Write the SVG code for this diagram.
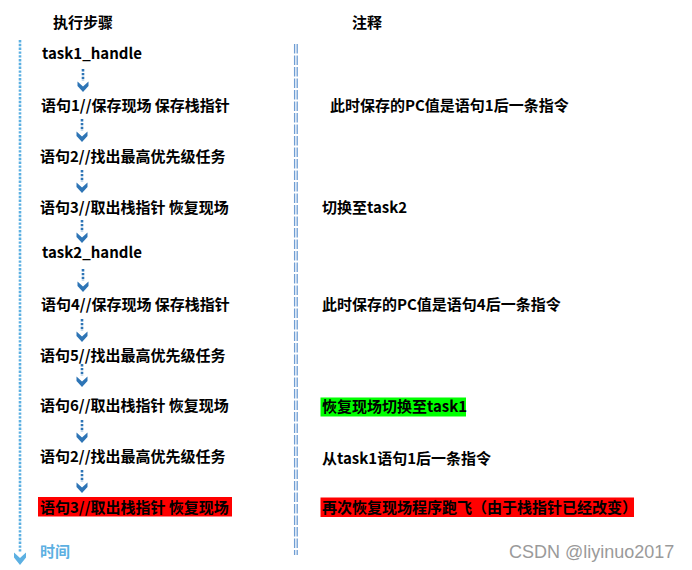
<svg xmlns="http://www.w3.org/2000/svg" xmlns:xlink="http://www.w3.org/1999/xlink" width="692" height="570" viewBox="0 0 692 570">
<style>
text{font-family:"Noto Sans CJK SC","Noto Sans",sans-serif;font-size:15px;font-weight:bold;fill:#000}
.time{fill:#5CB0E2}
.wm{font-family:"Liberation Sans","Noto Sans",sans-serif;font-weight:normal;font-size:18px;fill:#9a9a9a}
.dots{stroke:#2E75B6;stroke-width:2.6;stroke-dasharray:2.4 1.5;fill:none}
.head{fill:#2E75B6}
.axis{stroke:#5CB0E2;stroke-width:2.6;stroke-dasharray:2.4 1.4;fill:none}
.sep{stroke:#6E9DD3;stroke-width:1.3;stroke-dasharray:9.5 2;fill:none}
</style>
<defs>
<g id="arr">
<line class="dots" x1="0" y1="-23" x2="0" y2="-11"/>
<polygon class="head" points="-5.5,-10.5 0,-5.5 5.5,-10.5 5.5,-6 0,0 -5.5,-6"/>
</g>
</defs>
<rect width="692" height="570" fill="#fff"/>

<g id="axis-time">
<line class="axis" x1="20" y1="40" x2="20" y2="553"/>
<polygon fill="#5CB0E2" points="14,552.5 20,558 26,552.5 26,557.5 20,565 14,557.5"/>
<text class="time" x="40" y="556.5">时间</text>
</g>

<g id="separator">
<line class="sep" x1="294.6" y1="44" x2="294.6" y2="555"/>
<line class="sep" x1="297.2" y1="44" x2="297.2" y2="555"/>
</g>

<g id="headers">
<text x="53" y="27.5">执行步骤</text>
<text x="352" y="27.5">注释</text>
</g>

<g id="step-task1-handle"><text x="42" y="58.5">task1_handle</text></g>
<g id="step-s1"><text x="41" y="110.5">语句1//保存现场 保存栈指针</text></g>
<g id="step-s2"><text x="40" y="161.5">语句2//找出最高优先级任务</text></g>
<g id="step-s3"><text x="40" y="212.5">语句3//取出栈指针 恢复现场</text></g>
<g id="step-task2-handle"><text x="42" y="257.5">task2_handle</text></g>
<g id="step-s4"><text x="41" y="309.5">语句4//保存现场 保存栈指针</text></g>
<g id="step-s5"><text x="40" y="360.5">语句5//找出最高优先级任务</text></g>
<g id="step-s6"><text x="40" y="410.5">语句6//取出栈指针 恢复现场</text></g>
<g id="step-s2b"><text x="40" y="461.5">语句2//找出最高优先级任务</text></g>
<g id="step-s3b">
<rect x="38" y="497" width="194" height="19.5" fill="#FF0000"/>
<text x="40" y="512.5">语句3//取出栈指针 恢复现场</text>
</g>

<g id="note-1"><text x="330" y="110.5">此时保存的PC值是语句1后一条指令</text></g>
<g id="note-2"><text x="322" y="212.5">切换至task2</text></g>
<g id="note-3"><text x="322" y="309.5">此时保存的PC值是语句4后一条指令</text></g>
<g id="note-4">
<rect x="320.5" y="397.5" width="145.5" height="19" fill="#00FF00"/>
<text x="322" y="412">恢复现场切换至task1</text>
</g>
<g id="note-5"><text x="322" y="464">从task1语句1后一条指令</text></g>
<g id="note-6">
<rect x="320.5" y="497.5" width="313.5" height="19.5" fill="#FF0000"/>
<text x="322" y="513">再次恢复现场程序跑飞（由于栈指针已经改变）</text>
</g>

<g id="connectors">
<use xlink:href="#arr" x="83" y="92"/>
<use xlink:href="#arr" x="82" y="142"/>
<use xlink:href="#arr" x="82" y="193"/>
<use xlink:href="#arr" x="82" y="243"/>
<use xlink:href="#arr" x="83" y="292"/>
<use xlink:href="#arr" x="82" y="342"/>
<use xlink:href="#arr" x="82" y="387"/>
<use xlink:href="#arr" x="82" y="443"/>
<use xlink:href="#arr" x="82" y="493"/>
</g>

<g id="watermark"><text class="wm" x="509" y="557.5">CSDN @liyinuo2017</text></g>
</svg>
